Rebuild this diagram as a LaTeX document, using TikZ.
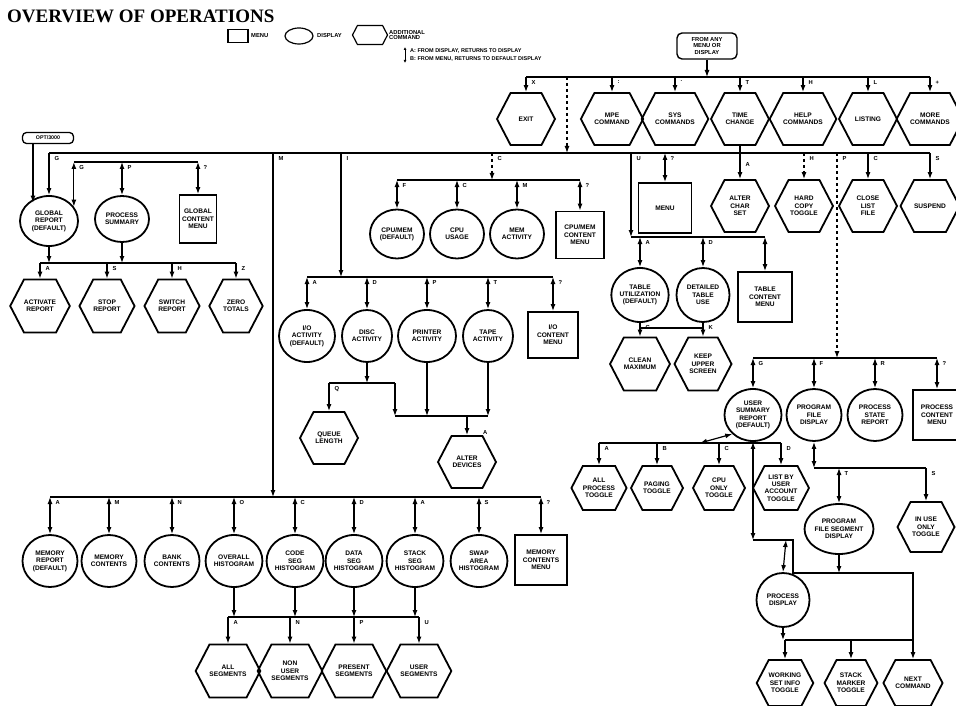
\documentclass[tikz,border=0pt]{standalone}
\usepackage{fontspec}
\setmainfont{Liberation Sans}
\newfontfamily\titlefont{Liberation Serif}
\usetikzlibrary{arrows.meta,shapes.geometric,shapes.symbols}
\tikzset{
  every node/.style={font=\fontsize{6.6}{7.4}\selectfont\bfseries, align=center, inner sep=0pt},
  shp/.style={draw, line width=1.8pt},
  hexa/.style={shp, shape=signal, signal to=west and east, signal pointer angle=125, minimum width=58pt, minimum height=52pt},
  disp/.style={shp, ellipse, minimum width=56pt, minimum height=50pt},
  menubox/.style={shp, rectangle, minimum width=50pt, minimum height=48pt},
  ln/.style={line width=1.2pt},
  arr/.style={ln, -{Latex[length=7pt,width=5pt]}},
  darr/.style={ln, {Latex[length=7pt,width=5pt]}-{Latex[length=7pt,width=5pt]}},
  lbl/.style={font=\fontsize{5.8}{5.8}\selectfont\bfseries},
  lab/.style={lbl, pos=0, anchor=north west, xshift=5pt, yshift=-3pt},
}
\begin{document}
\begin{tikzpicture}[x=1pt,y=-1pt]
\useasboundingbox (0,0) rectangle (956,706);
% title and legend
\node[anchor=west, font=\titlefont\bfseries\fontsize{19}{19}\selectfont] (title) at (7,16) {OVERVIEW OF OPERATIONS};
\node[shp, line width=1.2pt, minimum width=20pt, minimum height=13pt] (lgm) at (238,36) {};
\node[anchor=west, lbl] (lgmt) at (251,36) {MENU};
\node[shp, line width=1.2pt, ellipse, minimum width=28pt, minimum height=16pt] (lgd) at (299,36) {};
\node[anchor=west, lbl] (lgdt) at (317,36) {DISPLAY};
\node[hexa, line width=1.2pt, minimum width=35pt, minimum height=19pt] (lgh) at (370,35) {};
\node[anchor=west, align=left, lbl] (lght) at (389,35) {ADDITIONAL\\COMMAND};
\node[anchor=west, align=left, font=\fontsize{5.5}{7.5}\selectfont\bfseries] (lgt) at (410,55) {A: FROM DISPLAY, RETURNS TO DISPLAY\\B: FROM MENU, RETURNS TO DEFAULT DISPLAY};
\coordinate (lga) at (405,47); \coordinate (lgb) at (405,63);
\draw[ln, line width=0.8pt, {Latex[length=3pt,width=3pt]}-{Latex[length=3pt,width=3pt]}] (lga) -- (lgb);

% top
\node[shp, line width=1.4pt, rounded corners=5pt, minimum width=60pt, minimum height=26pt, font=\fontsize{5.8}{6.5}\selectfont\bfseries] (any) at (707,46) {FROM ANY\\MENU OR\\DISPLAY};
\coordinate (bA) at (0,77);
\coordinate (bB) at (0,153);
\node[hexa] (exit) at (526,119) {EXIT};
\node[hexa] (mpe) at (612,119) {MPE\\COMMAND};
\node[hexa] (sys) at (675,119) {SYS\\COMMANDS};
\node[hexa] (time) at (740,119) {TIME\\CHANGE};
\node[hexa] (help) at (803,119) {HELP\\COMMANDS};
\node[hexa] (list) at (868,119) {LISTING};
\node[hexa, minimum width=54pt] (more) at (930,119) {MORE\\COMMANDS};
\draw[arr] (any.south) -- (any.south |- bA);
\draw[ln] (exit.north |- bA) -- (more.north |- bA);
\draw[arr] (exit.north |- bA) -- node[lab]{X} (exit.north);
\draw[arr] (mpe.north |- bA) -- node[lab]{:} (mpe.north);
\draw[arr] (sys.north |- bA) -- node[lab]{.} (sys.north);
\draw[arr] (time.north |- bA) -- node[lab]{T} (time.north);
\draw[arr] (help.north |- bA) -- node[lab]{H} (help.north);
\draw[arr] (list.north |- bA) -- node[lab]{L} (list.north);
\draw[arr] (more.north |- bA) -- node[lab]{+} (more.north);
\coordinate (jA) at (567,77); \coordinate (jB) at (567,153);
\draw[arr, dashed] (jA) -- (jB);

% global report group
\node[shp, line width=1.3pt, rounded corners=4pt, minimum width=51pt, minimum height=11pt, font=\fontsize{5.3}{5.3}\selectfont\bfseries] (opt) at (48,138) {OPT/3000};
\node[disp, minimum width=58pt, minimum height=50pt] (glob) at (49,221) {GLOBAL\\REPORT\\(DEFAULT)};
\node[disp, minimum width=54pt, minimum height=46pt] (psum) at (122,219) {PROCESS\\SUMMARY};
\node[menubox, minimum width=37pt, minimum height=48pt] (gmenu) at (198,219) {GLOBAL\\CONTENT\\MENU};
\draw[arr] ([xshift=-15pt]opt.south) -- ([xshift=-15pt]opt.south |- glob.north west);
\draw[ln] (glob.north |- bB) -- (more.north |- bB);
\draw[arr] (glob.north |- bB) -- node[lab]{G} (glob.north);
\coordinate (bG) at (0,162);
\draw[ln] (glob.30 |- bG) -- (gmenu.north |- bG);
\draw[darr] (glob.30 |- bG) -- node[lab]{G} (glob.30);
\draw[darr] (psum.north |- bG) -- node[lab]{P} (psum.north);
\draw[darr] (gmenu.north |- bG) -- node[lab]{?} (gmenu.north);
\coordinate (bG2) at (0,263);
\node[hexa, minimum width=50pt, minimum height=53pt] (act) at (40,306) {ACTIVATE\\REPORT};
\node[hexa, minimum width=50pt, minimum height=53pt] (stop) at (107,306) {STOP\\REPORT};
\node[hexa, minimum width=50pt, minimum height=53pt] (swr) at (172,306) {SWITCH\\REPORT};
\node[hexa, minimum width=50pt, minimum height=53pt] (zero) at (236,306) {ZERO\\TOTALS};
\draw[arr] (glob.south) -- (glob.south |- bG2);
\draw[arr] (psum.south) -- (psum.south |- bG2);
\draw[ln] (act.north |- bG2) -- (zero.north |- bG2);
\draw[arr] (act.north |- bG2) -- node[lab]{A} (act.north);
\draw[arr] (stop.north |- bG2) -- node[lab]{S} (stop.north);
\draw[arr] (swr.north |- bG2) -- node[lab]{H} (swr.north);
\draw[arr] (zero.north |- bG2) -- node[lab]{Z} (zero.north);

% CPU / memory manager group
\coordinate (cTop) at (492,153); \coordinate (cBot) at (492,180);
\coordinate (bC) at (0,180);
\node[disp, minimum width=54pt, minimum height=49pt] (cpu1) at (397,234) {CPU/MEM\\(DEFAULT)};
\node[disp, minimum width=54pt, minimum height=49pt] (cpu2) at (457,234) {CPU\\USAGE};
\node[disp, minimum width=54pt, minimum height=49pt] (cpu3) at (517,234) {MEM\\ACTIVITY};
\node[menubox, minimum width=48pt, minimum height=47pt] (cmenu) at (580,235) {CPU/MEM\\CONTENT\\MENU};
\draw[arr, dashed] (cTop) -- node[lab]{C} (cBot);
\draw[ln] (cpu1.north |- bC) -- (cmenu.north |- bC);
\draw[darr] (cpu1.north |- bC) -- node[lab]{F} (cpu1.north);
\draw[darr] (cpu2.north |- bC) -- node[lab]{C} (cpu2.north);
\draw[darr] (cpu3.north |- bC) -- node[lab]{M} (cpu3.north);
\draw[darr] (cmenu.north |- bC) -- node[lab]{?} (cmenu.north);

% I/O group
\coordinate (iTop) at (341,153); \coordinate (iBot) at (341,277);
\coordinate (bI) at (0,277);
\node[disp, minimum width=56pt, minimum height=52pt] (io1) at (307,336) {I/O\\ACTIVITY\\(DEFAULT)};
\node[disp, minimum width=50pt, minimum height=52pt] (io2) at (367,336) {DISC\\ACTIVITY};
\node[disp, minimum width=58pt, minimum height=52pt] (io3) at (427,336) {PRINTER\\ACTIVITY};
\node[disp, minimum width=50pt, minimum height=52pt] (io4) at (488,336) {TAPE\\ACTIVITY};
\node[menubox, minimum width=50pt, minimum height=46pt] (iomenu) at (553,335) {I/O\\CONTENT\\MENU};
\draw[arr] (iTop) -- node[lab]{I} (iBot);
\draw[ln] (io1.north |- bI) -- (iomenu.north |- bI);
\draw[darr] (io1.north |- bI) -- node[lab]{A} (io1.north);
\draw[darr] (io2.north |- bI) -- node[lab]{D} (io2.north);
\draw[darr] (io3.north |- bI) -- node[lab]{P} (io3.north);
\draw[darr] (io4.north |- bI) -- node[lab]{T} (io4.north);
\draw[darr] (iomenu.north |- bI) -- node[lab]{?} (iomenu.north);
\node[hexa] (queue) at (329,438) {QUEUE\\LENGTH};
\node[hexa, label={[lbl, anchor=south west]north east:A}] (altdev) at (467,462) {ALTER\\DEVICES};
\coordinate (bQ) at (0,383);
\coordinate (qR) at (395,383); \coordinate (qRb) at (395,416);
\coordinate (bAlt) at (0,416);
\draw[arr] (io2.south) -- (io2.south |- bQ);
\draw[ln] (queue.north |- bQ) -- (qR);
\draw[arr] (queue.north |- bQ) -- node[lab]{Q} (queue.north);
\draw[arr] (qR) -- (qRb);
\draw[ln] (qRb) -- (io4.south |- bAlt);
\draw[arr] (io3.south) -- (io3.south |- bAlt);
\draw[arr] (io4.south) -- (io4.south |- bAlt);
\draw[arr] (altdev.north |- bAlt) -- (altdev.north);

% memory group
\coordinate (mTop) at (273,153); \coordinate (mBot) at (273,497);
\coordinate (bM) at (0,497);
\tikzset{mem/.style={disp, minimum width=55pt, minimum height=52pt}}
\node[mem] (mrep) at (50,561) {MEMORY\\REPORT\\(DEFAULT)};
\node[mem] (mcont) at (109,561) {MEMORY\\CONTENTS};
\node[mem] (bank) at (172,561) {BANK\\CONTENTS};
\node[mem] (ovh) at (234,561) {OVERALL\\HISTOGRAM};
\node[mem] (code) at (295,561) {CODE\\SEG\\HISTOGRAM};
\node[mem] (data) at (354,561) {DATA\\SEG\\HISTOGRAM};
\node[mem] (stack) at (415,561) {STACK\\SEG\\HISTOGRAM};
\node[mem] (swap) at (479,561) {SWAP\\AREA\\HISTOGRAM};
\node[menubox, minimum width=52pt, minimum height=50pt] (mmenu) at (541,560) {MEMORY\\CONTENTS\\MENU};
\draw[arr] (mTop) -- node[lab]{M} (mBot);
\draw[ln] (mrep.north |- bM) -- (mmenu.north |- bM);
\draw[darr] (mrep.north |- bM) -- node[lab]{A} (mrep.north);
\draw[darr] (mcont.north |- bM) -- node[lab]{M} (mcont.north);
\draw[darr] (bank.north |- bM) -- node[lab]{N} (bank.north);
\draw[darr] (ovh.north |- bM) -- node[lab]{O} (ovh.north);
\draw[darr] (code.north |- bM) -- node[lab]{C} (code.north);
\draw[darr] (data.north |- bM) -- node[lab]{D} (data.north);
\draw[darr] (stack.north |- bM) -- node[lab]{A} (stack.north);
\draw[darr] (swap.north |- bM) -- node[lab]{S} (swap.north);
\draw[darr] (mmenu.north |- bM) -- node[lab]{?} (mmenu.north);
\coordinate (bS) at (0,617);
\tikzset{seg/.style={hexa, minimum width=54pt, minimum height=53pt}}
\node[seg] (allseg) at (228,671) {ALL\\SEGMENTS};
\node[seg] (nonuser) at (290,671) {NON\\USER\\SEGMENTS};
\node[seg] (present) at (354,671) {PRESENT\\SEGMENTS};
\node[seg] (userseg) at (419,671) {USER\\SEGMENTS};
\draw[arr] (ovh.south) -- (ovh.south |- bS);
\draw[arr] (code.south) -- (code.south |- bS);
\draw[arr] (data.south) -- (data.south |- bS);
\draw[arr] (stack.south) -- (stack.south |- bS);
\draw[ln] (allseg.north |- bS) -- (userseg.north |- bS);
\draw[arr] (allseg.north |- bS) -- node[lab]{A} (allseg.north);
\draw[arr] (nonuser.north |- bS) -- node[lab]{N} (nonuser.north);
\draw[arr] (present.north |- bS) -- node[lab]{P} (present.north);
\draw[arr] (userseg.north |- bS) -- node[lab]{U} (userseg.north);

% table group and commands
\coordinate (tTop) at (631,153); \coordinate (tBot) at (631,237);
\coordinate (bT) at (0,237);
\node[menubox, minimum width=53pt, minimum height=50pt] (menu) at (665,208) {MENU};
\node[hexa] (altchar) at (740,206) {ALTER\\CHAR\\SET};
\node[hexa] (hard) at (804,206) {HARD\\COPY\\TOGGLE};
\node[hexa] (close) at (868,206) {CLOSE\\LIST\\FILE};
\node[hexa, minimum width=54pt] (susp) at (930,206) {SUSPEND};
\draw[arr] (tTop) -- node[lab]{U} (tBot);
\draw[darr] (menu.north |- bB) -- node[lab]{?} (menu.north);
\draw[arr] (time.south) -- node[lbl, pos=0.55, anchor=west, xshift=5pt]{A} (altchar.north);
\draw[arr, dashed] (hard.north |- bB) -- node[lab]{H} (hard.north);
\draw[arr] (close.north |- bB) -- node[lab]{C} (close.north);
\draw[arr] (susp.north |- bB) -- node[lab]{S} (susp.north);
\node[disp, minimum width=57pt, minimum height=54pt] (tut) at (640,295) {TABLE\\UTILIZATION\\(DEFAULT)};
\node[disp, minimum width=53pt, minimum height=54pt] (dtu) at (703,295) {DETAILED\\TABLE\\USE};
\node[menubox, minimum width=54pt, minimum height=50pt] (tmenu) at (765,297) {TABLE\\CONTENT\\MENU};
\draw[ln] (tBot) -- (tmenu.north |- bT);
\draw[darr] (tut.north |- bT) -- node[lab]{A} (tut.north);
\draw[darr] (dtu.north |- bT) -- node[lab]{D} (dtu.north);
\draw[darr] (tmenu.north |- bT) -- (tmenu.north);
\coordinate (bK) at (0,328);
\node[hexa, minimum width=57pt, minimum height=53pt] (clean) at (640,364) {CLEAN\\MAXIMUM};
\node[hexa, minimum width=57pt, minimum height=53pt] (keep) at (703,364) {KEEP\\UPPER\\SCREEN};
\draw[ln] (tut.south |- bK) -- (dtu.south |- bK);
\draw[arr] (tut.south) -- node[lbl, pos=0.3, anchor=west, xshift=5pt]{C} (clean.north);
\draw[arr] (dtu.south) -- node[lbl, pos=0.3, anchor=west, xshift=5pt]{K} (keep.north);

% process group
\coordinate (pTop) at (837,153); \coordinate (pBot) at (837,358);
\coordinate (bP) at (0,358);
\node[disp, minimum width=57pt, minimum height=52pt] (usr) at (753,415) {USER\\SUMMARY\\REPORT\\(DEFAULT)};
\node[disp, minimum width=55pt, minimum height=52pt] (pfd) at (814,415) {PROGRAM\\FILE\\DISPLAY};
\node[disp, minimum width=55pt, minimum height=52pt] (psr) at (875,415) {PROCESS\\STATE\\REPORT};
\node[menubox, minimum width=48pt, minimum height=50pt] (pmenu) at (937,415) {PROCESS\\CONTENT\\MENU};
\draw[arr, dashed] (pTop) -- node[lab]{P} (pBot);
\draw[ln] (usr.north |- bP) -- (pmenu.north |- bP);
\draw[darr] (usr.north |- bP) -- node[lab]{G} (usr.north);
\draw[darr] (pfd.north |- bP) -- node[lab]{F} (pfd.north);
\draw[darr] (psr.north |- bP) -- node[lab]{R} (psr.north);
\draw[darr] (pmenu.north |- bP) -- node[lab]{?} (pmenu.north);
% user summary toggles
\coordinate (bU) at (0,443); \coordinate (uc) at (700,443);
\tikzset{tog/.style={hexa, minimum width=52pt, minimum height=44pt}}
\node[tog] (allp) at (599,488) {ALL\\PROCESS\\TOGGLE};
\node[tog] (paging) at (657,488) {PAGING\\TOGGLE};
\node[tog] (cpuonly) at (719,488) {CPU\\ONLY\\TOGGLE};
\node[tog] (listby) at (781,488) {LIST BY\\USER\\ACCOUNT\\TOGGLE};
\draw[darr] (usr.south west) -- (uc);
\draw[ln] (allp.north |- bU) -- (listby.north |- bU);
\draw[arr] (allp.north |- bU) -- node[lab]{A} (allp.north);
\draw[arr] (paging.north |- bU) -- node[lab]{B} (paging.north);
\draw[arr] (cpuonly.north |- bU) -- node[lab]{C} (cpuonly.north);
\draw[arr] (listby.north |- bU) -- node[lab]{D} (listby.north);
% program file display branch
\coordinate (bF) at (0,468);
\node[disp, minimum width=57pt, minimum height=50pt] (pfs) at (839,529) {PROGRAM\\FILE SEGMENT\\DISPLAY};
\node[hexa, minimum width=57pt, minimum height=50pt] (inuse) at (926,527) {IN USE\\ONLY\\TOGGLE};
\draw[darr] (pfd.south) -- (pfd.south |- bF);
\draw[ln] (pfd.south |- bF) -- (inuse.north |- bF);
\draw[darr] (pfs.north |- bF) -- node[lab]{T} (pfs.north);
\draw[arr] (inuse.north |- bF) -- node[lab]{S} (inuse.north);
% process display
\node[disp, minimum width=53pt, minimum height=54pt] (pdisp) at (783,600) {PROCESS\\DISPLAY};
\coordinate (uL) at (753,540); \coordinate (uR) at (793,540);
\coordinate (uRb) at (793,573); \coordinate (dR) at (913,573); \coordinate (dRb) at (913,640);
\coordinate (bD) at (0,573); \coordinate (bE) at (0,640);
\draw[darr] (usr.south) -- (uL);
\draw[ln] (uL) -- (uR) -- (uRb) -- (dR) -- (dRb);
\draw[darr] ([xshift=-7pt]uR) -- (pdisp.north);
\draw[arr] (pfs.south) -- (pfs.south |- bD);
\tikzset{bot/.style={hexa, minimum width=50pt, minimum height=46pt}}
\node[bot] (ws) at (785,683) {WORKING\\SET INFO\\TOGGLE};
\node[bot] (smt) at (851,683) {STACK\\MARKER\\TOGGLE};
\node[bot] (next) at (913,683) {NEXT\\COMMAND};
\draw[arr] (pdisp.south) -- (pdisp.south |- bE);
\draw[ln] (ws.north |- bE) -- (dRb);
\draw[arr] (ws.north |- bE) -- (ws.north);
\draw[arr] (smt.north |- bE) -- (smt.north);
\draw[arr] (next.north |- bE) -- (next.north);
\end{tikzpicture}
\end{document}
